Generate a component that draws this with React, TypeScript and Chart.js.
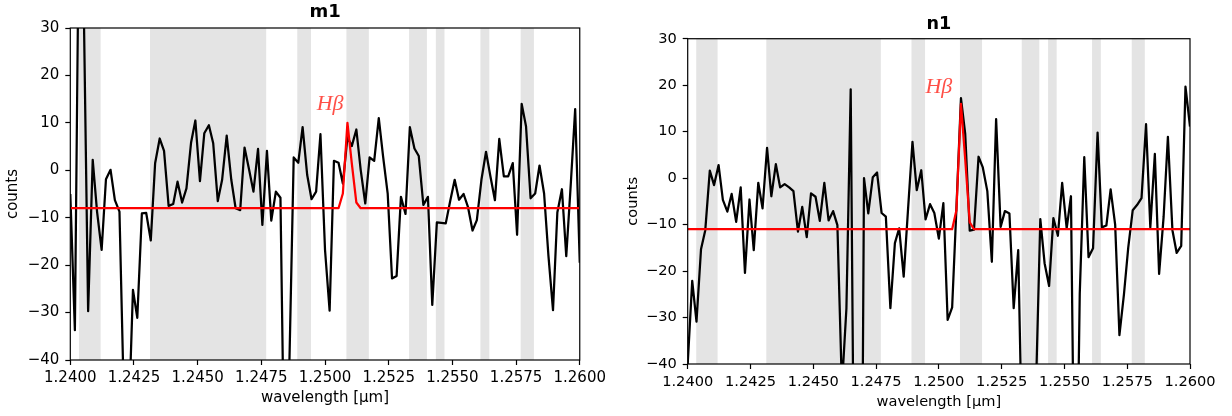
import React, { useEffect, useRef } from 'react';
import { Chart, registerables } from 'chart.js';

Chart.register(...registerables);

// ---------------- data ----------------
const WAVELENGTHS = [
  1.24000, 1.24018, 1.24035, 1.24053, 1.24070, 1.24088, 1.24105, 1.24123, 1.24140, 1.24158,
  1.24175, 1.24193, 1.24211, 1.24228, 1.24246, 1.24263, 1.24281, 1.24298, 1.24316, 1.24333,
  1.24351, 1.24368, 1.24386, 1.24404, 1.24421, 1.24439, 1.24456, 1.24474, 1.24491, 1.24509,
  1.24526, 1.24544, 1.24561, 1.24579, 1.24596, 1.24614, 1.24632, 1.24649, 1.24667, 1.24684,
  1.24702, 1.24719, 1.24737, 1.24754, 1.24772, 1.24789, 1.24807, 1.24825, 1.24842, 1.24860,
  1.24877, 1.24895, 1.24912, 1.24930, 1.24947, 1.24965, 1.24982, 1.25000, 1.25018, 1.25035,
  1.25053, 1.25070, 1.25088, 1.25105, 1.25123, 1.25140, 1.25158, 1.25175, 1.25193, 1.25211,
  1.25228, 1.25246, 1.25263, 1.25281, 1.25298, 1.25316, 1.25333, 1.25351, 1.25368, 1.25386,
  1.25404, 1.25421, 1.25439, 1.25456, 1.25474, 1.25491, 1.25509, 1.25526, 1.25544, 1.25561,
  1.25579, 1.25596, 1.25614, 1.25632, 1.25649, 1.25667, 1.25684, 1.25702, 1.25719, 1.25737,
  1.25754, 1.25772, 1.25789, 1.25807, 1.25825, 1.25842, 1.25860, 1.25877, 1.25895, 1.25912,
  1.25930, 1.25947, 1.25965, 1.25982, 1.26000,
];

const M1_COUNTS = [
  -5, -33.7, 60, 34, -29.7, 2.2, -8.7, -16.8, -1.9, 0.1,
  -6.3, -8.7, -50, -55, -25.2, -31.1, -9.1, -9.0, -14.8, 1.5,
  6.7, 4.1, -7.5, -7.1, -2.4, -6.8, -3.8, 5.8, 10.5, -2.3,
  7.8, 9.5, 5.7, -6.5, -2.0, 7.3, -2.0, -8.0, -8.4, 4.8,
  0.1, -4.5, 4.5, -11.5, 4.1, -10.6, -4.5, -5.8, -70, -41,
  2.7, 1.6, 9.1, -1.0, -6.1, -4.5, 7.6, -16.8, -29.6, 2.0,
  1.6, -2.8, 7, 5.1, 8.6, 0.1, -7.0, 2.7, 2.0, 11.0,
  2.9, -4.9, -22.8, -22.3, -5.6, -9.2, 9.1, 4.6, 3.0, -7.3,
  -5.6, -28.4, -11.0, -11.1, -11.2, -6.6, -2.0, -6.2, -5.0, -7.7,
  -12.7, -10.5, -2.0, 3.9, -1.2, -6.3, 6.6, -1.3, -1.3, 1.5,
  -13.6, 14.0, 9.3, -5.9, -4.9, 1.0, -4.9, -18, -29.5, -8.9,
  -4.0, -18.1, -2.7, 12.9, -19.5,
];

const N1_COUNTS = [
  -40, -22.1, -30.9, -15.3, -11.2, 1.6, -1.5, 2.8, -4.7, -7.2,
  -3.4, -9.4, -2.0, -20.4, -4.6, -15.5, -1.0, -6.5, 6.5, -3.9,
  3.0, -2.0, -1.3, -2.0, -2.8, -11.5, -6.2, -12.7, -3.3, -4.0,
  -9.2, -1.0, -9.1, -7.1, -10.1, -45, -28, 19.1, -100, -160,
  0, -7.6, 0.2, 1.2, -7.5, -8.3, -28.0, -14.0, -10.8, -21.2,
  -7, 7.8, -2.6, 1.7, -8.9, -5.6, -7.5, -13.0, -5.4, -30.5,
  -27.8, -6.5, 17.2, 9.5, -11.3, -11.1, 4.6, 2.3, -2.8, -18.0,
  12.7, -10.5, -7.1, -7.6, -28.0, -15.5, -62, -75, -58, -47,
  -8.8, -18.3, -23.2, -8.6, -12.4, -1.0, -10.8, -3.9, -90, -25,
  4.5, -17.0, -15.1, 9.8, -10.6, -10.2, -2.4, -10, -33.8, -25,
  -15, -6.9, -5.8, -4.3, 11.6, -10.6, 5.2, -20.6, -8.3, 8.9,
  -11.2, -16.1, -14.6, 19.7, 11.1,
];

// emission-line model (red): vertices of the model curve
const M1_MODEL_X = [1.24000, 1.25053, 1.25070, 1.25088, 1.25105, 1.25123, 1.25140, 1.26000];
const M1_MODEL_Y = [-8, -8, -4.9, 10, 1.5, -6.8, -8, -8];
const N1_MODEL_X = [1.24000, 1.25053, 1.25070, 1.25088, 1.25105, 1.25123, 1.25140, 1.26000];
const N1_MODEL_Y = [-11, -11, -6.9, 16, 4, -9.5, -11, -11];

// shaded (masked) wavelength ranges, same for both panels
const MASK_START = [1.24034, 1.24313, 1.24891, 1.25084, 1.2533, 1.25435, 1.2561, 1.25768];
const MASK_END = [1.24119, 1.24769, 1.24945, 1.25172, 1.2540, 1.25469, 1.25645, 1.2582];

const X_TICKS = [1.24, 1.2425, 1.245, 1.2475, 1.25, 1.2525, 1.255, 1.2575, 1.26];
const Y_TICKS = [-40, -30, -20, -10, 0, 10, 20, 30];

const LINE_NAME = 'Hβ';
const M1_LINE_LABEL_AT = [1.2502, 12.7];
const N1_LINE_LABEL_AT = [1.2500, 18.3];

const X_TITLE = 'wavelength [µm]';
const Y_TITLE = 'counts';

// ---------------- styling / layout ----------------
const FONT = "'DejaVu Sans', 'Noto Sans', sans-serif";
const BAND_COLOR = '#e4e4e4';

type Panel = {
  title: string;
  counts: number[];
  modelX: number[];
  modelY: number[];
  labelAt: number[];
  canvasLeft: number;
  width: number;
  padRight: number;
  yAxisWidth: number;
  xAxisHeight: number;
  titleTop: number;
  titleBottom: number;
  titleSize: number;
  fontSize: number;
  yTitlePad: number;
  xTitlePad: number;
};

const PANELS: Panel[] = [
  {
    title: 'm1', counts: M1_COUNTS, modelX: M1_MODEL_X, modelY: M1_MODEL_Y, labelAt: M1_LINE_LABEL_AT,
    canvasLeft: 0, width: 610, padRight: 29, yAxisWidth: 70.3, xAxisHeight: 56,
    titleTop: 1.7, titleBottom: 4.7, titleSize: 18, fontSize: 15, yTitlePad: 4, xTitlePad: 9,
  },
  {
    title: 'n1', counts: N1_COUNTS, modelX: N1_MODEL_X, modelY: N1_MODEL_Y, labelAt: N1_LINE_LABEL_AT,
    canvasLeft: 616, width: 616, padRight: 42, yAxisWidth: 71.7, xAxisHeight: 52,
    titleTop: 13.4, titleBottom: 4.2, titleSize: 17.6, fontSize: 14.6, yTitlePad: 8.2, xTitlePad: 5.2,
  },
];

const bandsPlugin = {
  id: 'bands',
  beforeDatasetsDraw(chart: any) {
    const { ctx, chartArea: a, scales } = chart;
    const xs = scales.x;
    ctx.save();
    ctx.beginPath();
    ctx.rect(a.left, a.top, a.right - a.left, a.bottom - a.top);
    ctx.clip();
    ctx.fillStyle = BAND_COLOR;
    MASK_START.forEach((s, i) => {
      const x0 = xs.getPixelForValue(s);
      const x1 = xs.getPixelForValue(MASK_END[i]);
      ctx.fillRect(x0, a.top, x1 - x0, a.bottom - a.top);
    });
    ctx.restore();
  },
};

function makeOverlayPlugin(panel: Panel) {
  return {
    id: 'overlay',
    afterDatasetsDraw(chart: any) {
      const { ctx, chartArea: a, scales } = chart;
      // Hβ label
      ctx.save();
      ctx.font = "italic 22px 'Liberation Serif', 'DejaVu Serif', serif";
      ctx.fillStyle = 'rgba(255, 20, 10, 0.75)';
      ctx.textAlign = 'center';
      ctx.textBaseline = 'alphabetic';
      ctx.fillText(LINE_NAME, scales.x.getPixelForValue(panel.labelAt[0]), scales.y.getPixelForValue(panel.labelAt[1]));
      ctx.restore();
      // frame
      ctx.save();
      ctx.strokeStyle = '#000';
      ctx.lineWidth = 1.2;
      ctx.strokeRect(a.left, a.top, a.right - a.left, a.bottom - a.top);
      ctx.restore();
    },
  };
}

function fmtY(v: number) {
  return v < 0 ? '\u2212' + Math.abs(v) : String(v);
}

function makeConfig(panel: Panel): any {
  const tickFont = { family: FONT, size: panel.fontSize };
  const grid = {
    display: true,
    drawOnChartArea: false,
    drawTicks: true,
    tickLength: 5,
    tickColor: '#000',
    tickWidth: 1.2,
    color: '#000',
  };
  return {
    type: 'line',
    data: {
      datasets: [
        {
          label: 'counts',
          data: panel.counts.map((y, i) => ({ x: WAVELENGTHS[i], y })),
          borderColor: '#000000',
          borderWidth: 2.25,
          pointRadius: 0,
          tension: 0,
          fill: false,
          clip: 0,
          order: 2,
          borderJoinStyle: 'round',
        },
        {
          label: 'model',
          data: panel.modelX.map((x, i) => ({ x, y: panel.modelY[i] })),
          borderColor: '#ff0000',
          borderWidth: 2.25,
          pointRadius: 0,
          tension: 0,
          fill: false,
          clip: 0,
          order: 1,
          borderJoinStyle: 'round',
        },
      ],
    },
    options: {
      animation: false,
      responsive: false,
      events: [],
      layout: { padding: { left: 0, right: panel.padRight, top: 0, bottom: 0 } },
      plugins: {
        legend: { display: false },
        tooltip: { enabled: false },
        title: {
          display: true,
          text: panel.title,
          fullSize: false,
          color: '#000',
          font: { family: FONT, size: panel.titleSize, weight: 'bold', lineHeight: 1.2 },
          padding: { top: panel.titleTop, bottom: panel.titleBottom },
        },
      },
      scales: {
        x: {
          type: 'linear',
          min: 1.24,
          max: 1.26,
          afterBuildTicks: (s: any) => { s.ticks = X_TICKS.map((v) => ({ value: v })); },
          afterFit: (s: any) => { s.height = panel.xAxisHeight; },
          ticks: {
            autoSkip: false,
            maxRotation: 0,
            minRotation: 0,
            padding: 4,
            color: '#000',
            font: tickFont,
            callback: (v: number) => Number(v).toFixed(4),
          },
          grid,
          border: { display: false },
          title: {
            display: true,
            text: X_TITLE,
            color: '#000',
            font: { family: FONT, size: panel.fontSize, lineHeight: 1.2 },
            padding: { top: 0, bottom: panel.xTitlePad },
          },
        },
        y: {
          type: 'linear',
          min: -40,
          max: 30,
          afterBuildTicks: (s: any) => { s.ticks = Y_TICKS.map((v) => ({ value: v })); },
          afterFit: (s: any) => { s.width = panel.yAxisWidth; },
          ticks: {
            autoSkip: false,
            padding: 6,
            color: '#000',
            font: tickFont,
            callback: (v: number) => fmtY(Number(v)),
          },
          grid,
          border: { display: false },
          title: {
            display: true,
            text: Y_TITLE,
            color: '#000',
            font: { family: FONT, size: panel.fontSize, lineHeight: 1.2 },
            padding: { top: panel.yTitlePad, bottom: 0 },
          },
        },
      },
    },
    plugins: [bandsPlugin, makeOverlayPlugin(panel)],
  };
}

function PanelChart({ panel }: { panel: Panel }) {
  const ref = useRef<HTMLCanvasElement | null>(null);
  useEffect(() => {
    if (!ref.current) return;
    const chart = new Chart(ref.current, makeConfig(panel));
    return () => chart.destroy();
  }, [panel]);
  return (
    <canvas
      ref={ref}
      width={panel.width}
      height={416}
      style={{ position: 'absolute', left: panel.canvasLeft, top: 0, width: panel.width, height: 416 }}
    />
  );
}

export default function App() {
  return (
    <div style={{ position: 'fixed', left: 0, top: 0, width: 1232, height: 416, background: '#fff' }}>
      {PANELS.map((p) => (
        <PanelChart key={p.title} panel={p} />
      ))}
    </div>
  );
}
